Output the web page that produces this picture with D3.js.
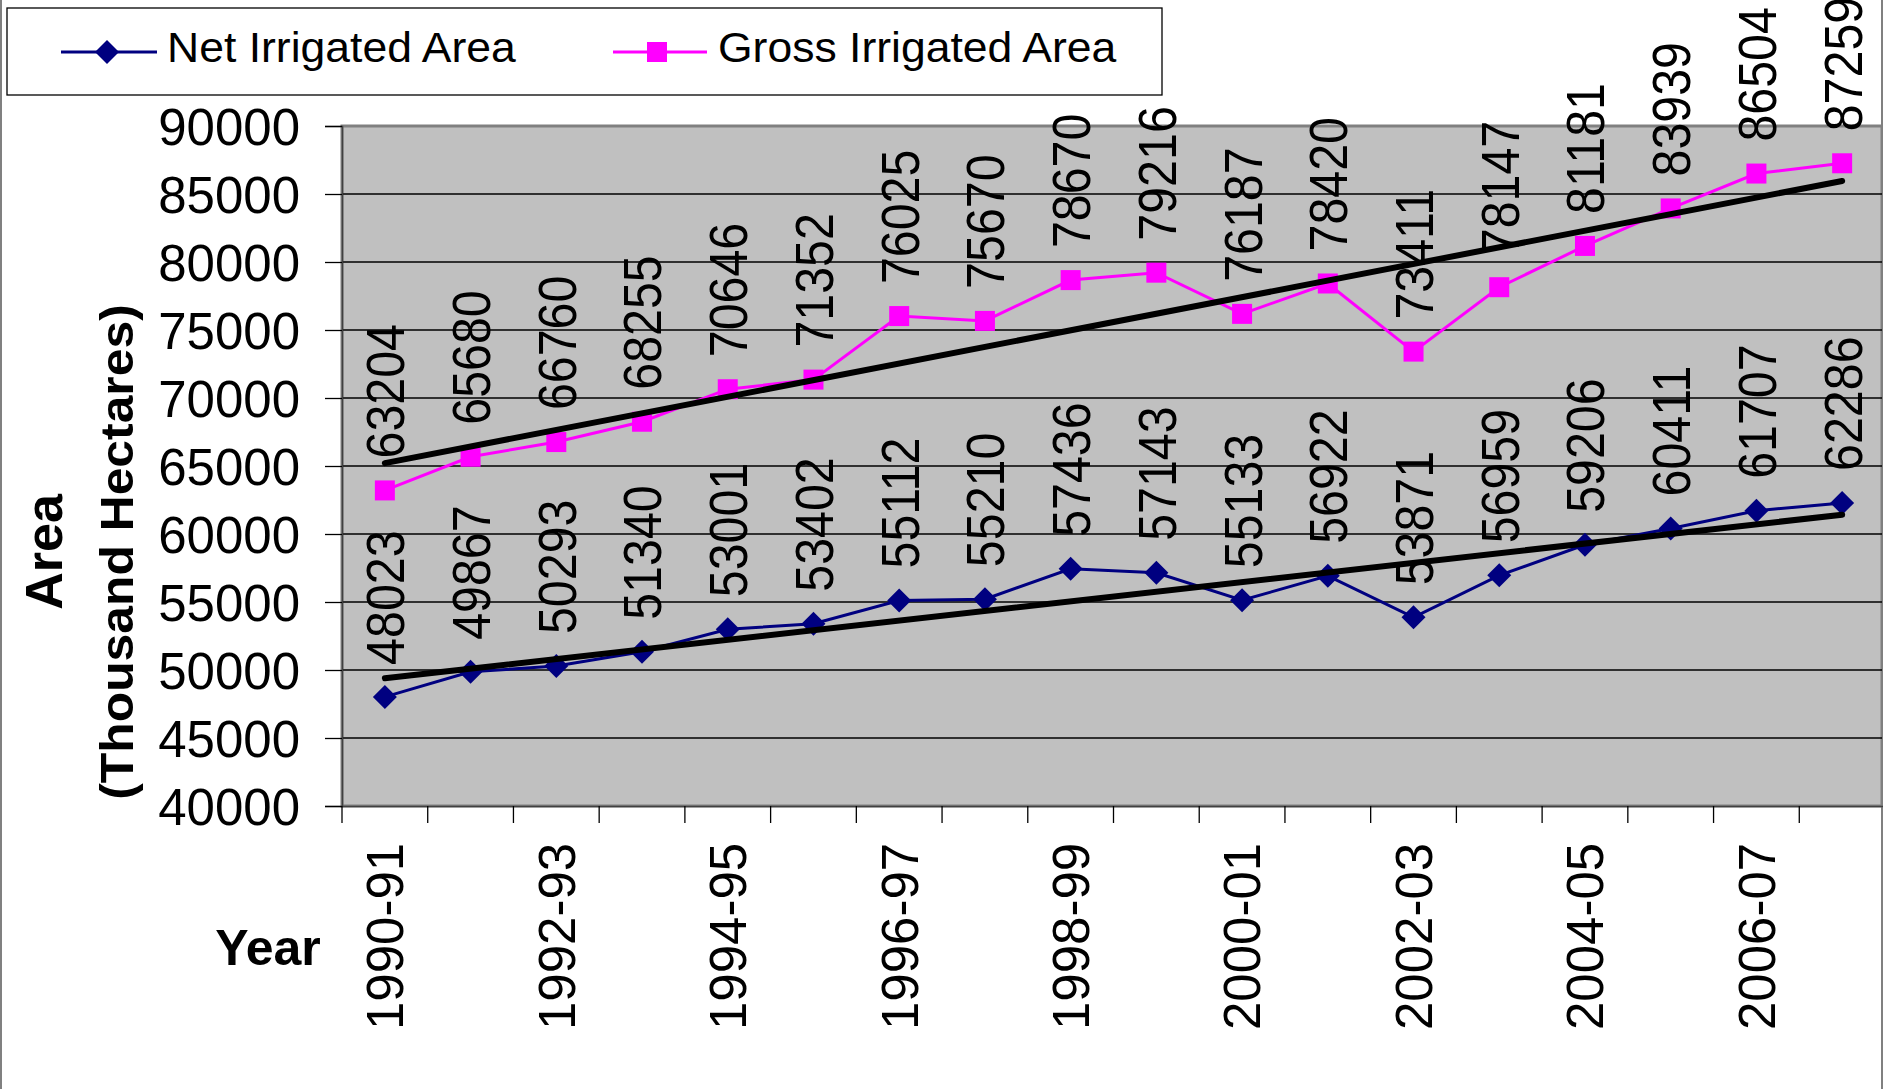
<!DOCTYPE html>
<html>
<head>
<meta charset="utf-8">
<script src="https://cdn.jsdelivr.net/npm/d3@7"></script>
<style>
  html, body { margin: 0; padding: 0; background: #fff; }
  svg { display: block; }
  text { font-family: "Liberation Sans", Arial, Helvetica, sans-serif; fill: #000; }
</style>
</head>
<body>
<svg id="chart" width="1883" height="1089"></svg>
<script>
const categories = ["1990-91","1991-92","1992-93","1993-94","1994-95","1995-96","1996-97","1997-98","1998-99","1999-00","2000-01","2001-02","2002-03","2003-04","2004-05","2005-06","2006-07","2007-08"];
const netIrrigated = [48023,49867,50293,51340,53001,53402,55112,55210,57436,57143,55133,56922,53871,56959,59206,60411,61707,62286];
const grossIrrigated = [63204,65680,66760,68255,70646,71352,76025,75670,78670,79216,76187,78420,73411,78147,81181,83939,86504,87259];
const yTicks = [40000,45000,50000,55000,60000,65000,70000,75000,80000,85000,90000];
const shownCategoryLabels = ["1990-91","1992-93","1994-95","1996-97","1998-99","2000-01","2002-03","2004-05","2006-07"];
const seriesNames = ["Net Irrigated Area", "Gross Irrigated Area"];

const svg = d3.select("#chart");
const plot = {left: 342, top: 126, right: 1882, bottom: 806};

const x = d3.scaleBand().domain(categories).range([plot.left, 1885]).padding(0);
const y = d3.scaleLinear().domain([40000, 90000]).range([plot.bottom, plot.top]);
const cx = d => x(d) + x.bandwidth() / 2;

// chart border (left / right)
svg.append("line").attr("x1",1).attr("x2",1).attr("y1",0).attr("y2",1089).attr("stroke","#808080").attr("stroke-width",2);
svg.append("line").attr("x1",1882).attr("x2",1882).attr("y1",0).attr("y2",1089).attr("stroke","#808080").attr("stroke-width",2);

// plot background
svg.append("rect").attr("x",plot.left).attr("y",plot.top)
  .attr("width",plot.right-plot.left).attr("height",plot.bottom-plot.top)
  .attr("fill","#C0C0C0").attr("stroke","#808080").attr("stroke-width",3);

// gridlines
svg.append("g").selectAll("line").data(yTicks.filter(t => t > 40000 && t < 90000)).join("line")
  .attr("x1",plot.left).attr("x2",plot.right)
  .attr("y1",d=>y(d)).attr("y2",d=>y(d))
  .attr("stroke","#000").attr("stroke-width",1.3);

// y axis
const yAxis = d3.axisLeft(y).tickValues(yTicks).tickSize(17).tickPadding(25).tickFormat(d3.format("d"));
const gy = svg.append("g").attr("transform",`translate(${plot.left},0)`).call(yAxis);
gy.select(".domain").attr("stroke","#404040").attr("stroke-width",1.5);
gy.selectAll(".tick line").attr("stroke","#000").attr("stroke-width",1.3);
gy.selectAll(".tick text").attr("font-size",51).attr("fill","#000")
  .style("font-family","'Liberation Sans', Arial, sans-serif").attr("dy","0.36em");

// x axis
const xAxis = d3.axisBottom(x).tickSize(0).tickFormat("");
const gx = svg.append("g").attr("transform",`translate(0,${plot.bottom})`).call(xAxis);
gx.select(".domain").attr("stroke","#404040").attr("stroke-width",1.5);
// tick marks at category boundaries
const boundaries = categories.map(c => x(c)).concat([x(categories[categories.length-1]) + x.bandwidth()]);
svg.append("g").selectAll("line").data(boundaries.filter(b => b <= plot.right)).join("line")
  .attr("x1",d=>d).attr("x2",d=>d).attr("y1",plot.bottom).attr("y2",plot.bottom+17)
  .attr("stroke","#000").attr("stroke-width",1.3);

// x labels
svg.append("g").selectAll("text").data(shownCategoryLabels).join("text")
  .attr("transform", d => `translate(${cx(d)},1030) rotate(-90)`)
  .attr("text-anchor","start").attr("dy","0.36em").attr("font-size",51)
  .text(d => d);

// trend lines (linear least squares)
function trend(vals) {
  const n = vals.length, idx = d3.range(n);
  const mx = d3.mean(idx), my = d3.mean(vals);
  const b = d3.sum(idx, i => (i-mx)*(vals[i]-my)) / d3.sum(idx, i => (i-mx)*(i-mx));
  const a = my - b*mx;
  return [[0, a], [n-1, a + b*(n-1)]];
}

const line = d3.line().x((d,i) => cx(categories[i])).y(d => y(d));

// series lines
svg.append("path").datum(netIrrigated).attr("d",line).attr("fill","none").attr("stroke","#000080").attr("stroke-width",3);
svg.append("path").datum(grossIrrigated).attr("d",line).attr("fill","none").attr("stroke","#FF00FF").attr("stroke-width",3);

// markers
const diamond = (cxp, cyp, r) => `M${cxp},${cyp-r}L${cxp+r},${cyp}L${cxp},${cyp+r}L${cxp-r},${cyp}Z`;
svg.append("g").selectAll("path").data(netIrrigated).join("path")
  .attr("d",(d,i) => diamond(cx(categories[i]), y(d), 12)).attr("fill","#000080");
svg.append("g").selectAll("rect").data(grossIrrigated).join("rect")
  .attr("x",(d,i)=>cx(categories[i])-10).attr("y",d=>y(d)-10).attr("width",20).attr("height",20)
  .attr("fill","#FF00FF");

// trend lines drawn on top
[netIrrigated, grossIrrigated].forEach(vals => {
  const t = trend(vals);
  svg.append("line")
    .attr("x1", cx(categories[t[0][0]])).attr("y1", y(t[0][1]))
    .attr("x2", cx(categories[t[1][0]])).attr("y2", y(t[1][1]))
    .attr("stroke","#000").attr("stroke-width",6).attr("stroke-linecap","round");
});

// data labels
function labels(vals) {
  svg.append("g").selectAll("text").data(vals).join("text")
    .attr("transform",(d,i) => `translate(${cx(categories[i])},${y(d)-32}) rotate(-90) scale(0.93,1.04)`)
    .attr("text-anchor","start").attr("dy","0.36em").attr("font-size",52)
    .text(d => d);
}
labels(netIrrigated);
labels(grossIrrigated);

// axis titles
const yt = svg.append("g").attr("transform","translate(0,552)");
yt.append("text").attr("transform","translate(62,0) rotate(-90)").attr("text-anchor","middle")
  .attr("font-weight","bold").attr("font-size",52).text("Area");
yt.append("text").attr("transform","translate(133,0) rotate(-90) scale(1.06,1)").attr("text-anchor","middle")
  .attr("font-weight","bold").attr("font-size",47).text("(Thousand Hectares)");
svg.append("text").attr("x",268).attr("y",965).attr("text-anchor","middle")
  .attr("font-weight","bold").attr("font-size",50).text("Year");

// legend
const lg = svg.append("g");
lg.append("rect").attr("x",7).attr("y",8).attr("width",1155).attr("height",87)
  .attr("fill","#fff").attr("stroke","#000").attr("stroke-width",1.3);
lg.append("line").attr("x1",61).attr("x2",157).attr("y1",52).attr("y2",52).attr("stroke","#000080").attr("stroke-width",3);
lg.append("path").attr("d",diamond(107,52,12)).attr("fill","#000080");
lg.append("text").attr("transform","translate(167,62) scale(1.06,1)").attr("font-size",42).text(seriesNames[0]);
lg.append("line").attr("x1",613).attr("x2",707).attr("y1",52).attr("y2",52).attr("stroke","#FF00FF").attr("stroke-width",3);
lg.append("rect").attr("x",647).attr("y",42).attr("width",20).attr("height",20).attr("fill","#FF00FF");
lg.append("text").attr("transform","translate(718,62) scale(1.06,1)").attr("font-size",42).text(seriesNames[1]);
</script>
</body>
</html>
